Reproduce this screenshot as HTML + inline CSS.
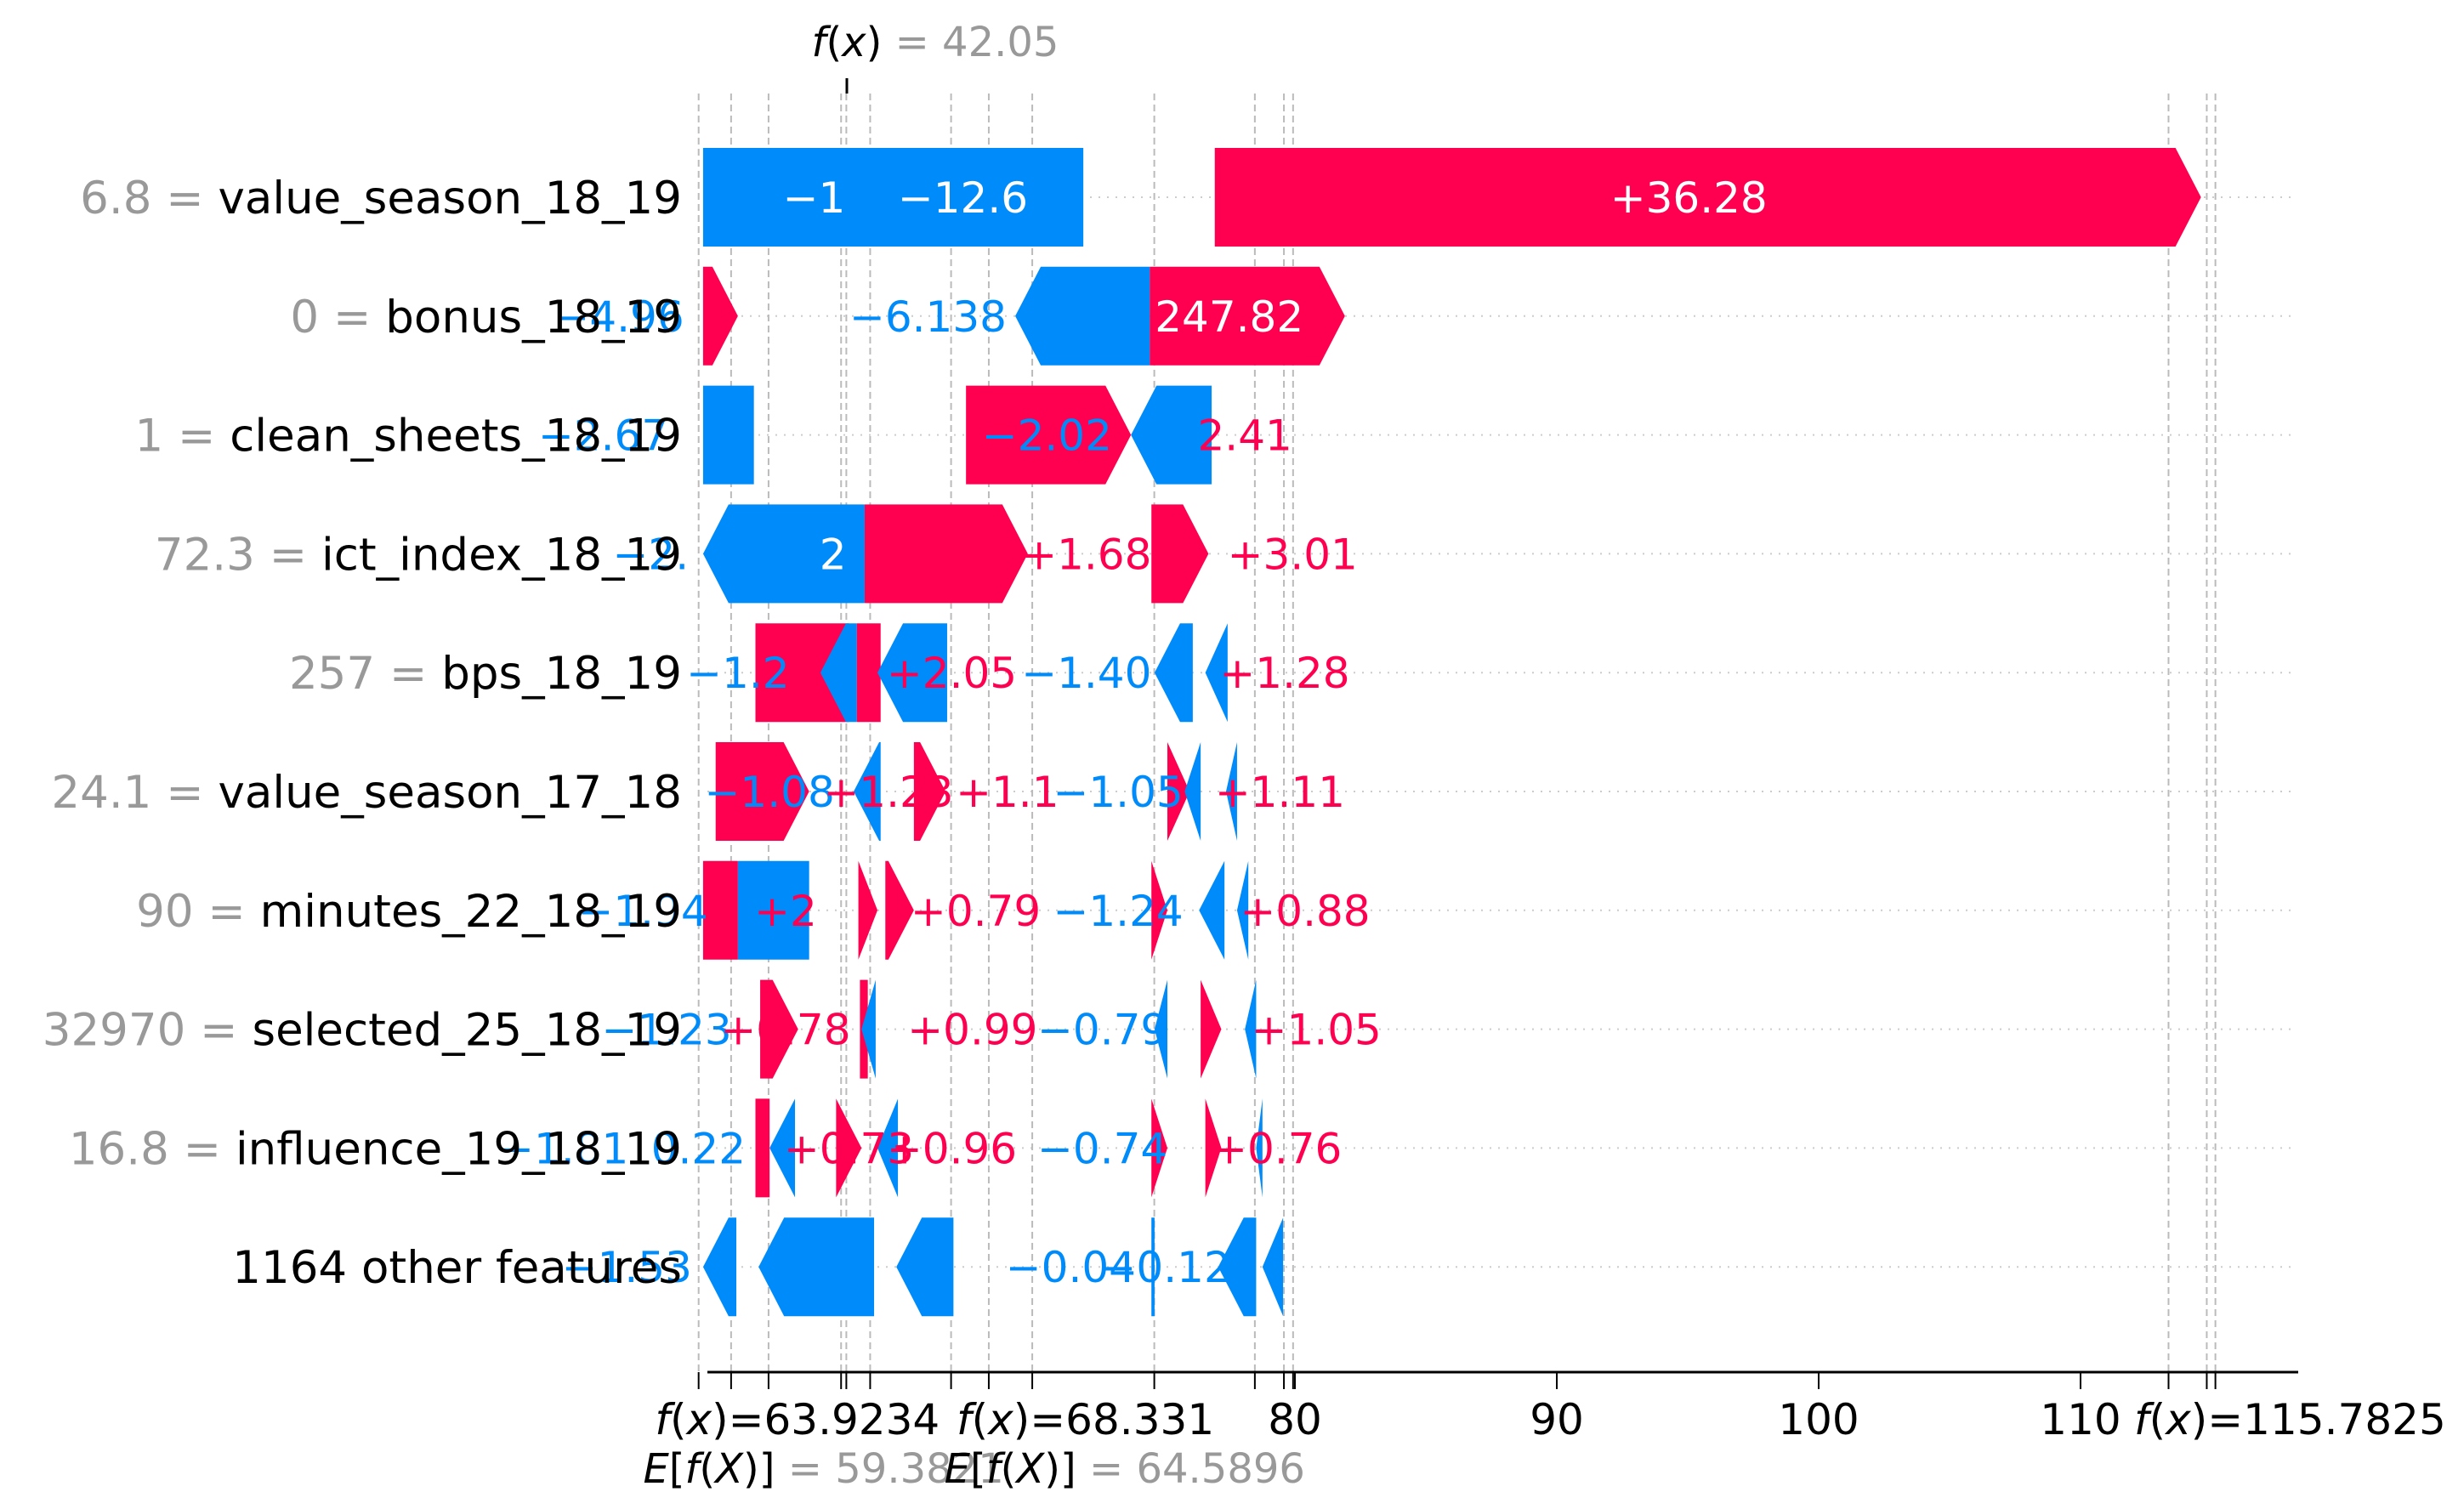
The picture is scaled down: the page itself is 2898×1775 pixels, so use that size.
<!DOCTYPE html>
<html><head><meta charset="utf-8"><style>
html,body{margin:0;padding:0;background:#fff;}
svg{display:block;font-family:"DejaVu Sans","Liberation Sans",sans-serif;}
</style></head><body>
<svg id="chart" width="2898" height="1775" viewBox="0 0 2898 1775" xmlns="http://www.w3.org/2000/svg">
<g id="grid"></g>
<g id="vlines"></g>
<g id="bars"></g>
<g id="labels"></g>
<g id="ylabels"></g>
<g id="axis"></g>
<text x="1100" y="66" font-size="48" text-anchor="middle"><tspan font-style="italic">f</tspan>(<tspan font-style="italic">x</tspan>) <tspan fill="#999">= 42.05</tspan></text>
<line x1="996" y1="92" x2="996" y2="110" stroke="#000" stroke-width="3"/>
</svg>
<script>
const features = ["value_season_18_19","bonus_18_19","clean_sheets_18_19","ict_index_18_19","bps_18_19","value_season_17_18","minutes_22_18_19","selected_25_18_19","influence_19_18_19","1164 other features"];
const featureValues = ["6.8","0","1","72.3","257","24.1","90","32970","16.8",""];
const segRow   = [0,0, 1,1,1, 2,2,2, 3,3,3, 4,4,4,4,4,4, 5,5,5,5,5,5, 6,6,6,6,6,6,6, 7,7,7,7,7,7, 8,8,8,8,8,8,8, 9,9,9,9,9,9];
const segStart = [57.40,76.94, 57.40,69.32,74.46, 57.40,67.44,73.74, 57.40,63.57,74.52, 59.40,61.88,63.27,64.06,74.64,76.58, 57.88,63.15,65.45,75.13,75.79,77.37, 57.40,58.73,63.33,64.36,74.52,76.34,77.79, 59.58,63.39,63.45,74.64,76.40,78.09, 59.40,59.94,62.48,64.06,74.52,76.58,78.52, 57.40,59.52,64.78,74.52,77.07,78.76];
const segEnd   = [71.92,114.60, 58.73,74.46,81.91, 59.34,73.74,76.82, 63.57,69.80,76.70, 62.97,63.27,64.18,66.72,76.10,77.43, 61.45,64.18,66.66,75.98,76.40,77.79, 58.73,61.45,64.06,65.45,75.13,77.31,78.22, 61.03,63.69,63.99,75.13,77.19,78.52, 59.94,60.91,63.45,64.84,75.13,77.19,78.76, 58.67,63.93,66.96,74.64,78.52,79.55];
const segSign  = [-1,1, 1,-1,1, -1,1,-1, -1,1,1, 1,-1,1,-1,-1,-1, 1,-1,1,1,-1,-1, 1,-1,1,1,1,-1,-1, 1,1,-1,-1,1,-1, 1,-1,1,-1,1,1,-1, -1,-1,-1,-1,-1,-1];
const segArrow = [0,1, 1,1,1, 0,1,1, 1,1,1, 0,1,0,1,1,1, 1,1,1,1,1,1, 0,0,1,1,1,1,1, 1,0,1,1,1,1, 0,1,1,1,1,1,1, 1,1,1,0,1,1];
const lblRow  = [0,0,0, 1,1,1, 2,2,2, 3,3,3,3, 4,4,4,4, 5,5,5,5,5, 6,6,6,6,6, 7,7,7,7,7, 8,8,8,8,8,8, 9,9,9];
const lblPos  = [61.64,67.32,95.04, 54.19,65.99,77.49, 53.59,70.53,78.09, 55.4,62.36,72.04,79.91, 58.73,66.9,72.04,79.61, 59.94,64.48,69.02,73.25,79.43, 55.1,60.55,67.81,73.25,80.39, 56.01,60.55,67.69,72.65,80.82, 52.07,57.22,62.97,66.9,72.65,79.31, 54.49,71.44,75.07];
const lblText = ["−1","−12.6","+36.28", "−4.96","−6.138","247.82", "−2.67","−2.02","2.41", "−2.","2","+1.68","+3.01", "−1.2","+2.05","−1.40","+1.28", "−1.08","+1.23","+1.1","−1.05","+1.11", "−1.94","+2","+0.79","−1.24","+0.88", "−1.23","+0.78","+0.99","−0.79","+1.05", "−1.81","0.22","+0.73","+0.96","−0.74","+0.76", "−1.53","−0.04","−0.12"];
const lblColor= ["w","w","w", "b","b","w", "b","b","r", "b","w","r","r", "b","r","b","r", "b","r","r","b","r", "b","r","r","b","r", "b","r","r","b","r", "b","b","r","r","b","r", "b","b","b"];
const majorTicks = [80,90,100,110];
const refLines = [57.23,58.47,59.90,62.67,62.87,63.78,66.87,68.31,69.97,74.63,78.47,79.58,79.93,113.36,114.82,115.15];

const NS="http://www.w3.org/2000/svg";
const RED="#ff0051", BLUE="#008bfb";
const xv = v => 1523 + (v-80)*30.8;
const rowY = i => 232 + i*139.8;
const H = 58;
function mk(tag, attrs, parent){const e=document.createElementNS(NS,tag);for(const k in attrs)e.setAttribute(k,attrs[k]);parent.appendChild(e);return e;}
const grid=document.getElementById('grid'), vl=document.getElementById('vlines'), bars=document.getElementById('bars'), labels=document.getElementById('labels'), yl=document.getElementById('ylabels'), axis=document.getElementById('axis');

features.forEach((f,i)=>{
  const y=rowY(i);
  const g=mk('line',{x1:832,x2:2700,y1:y,y2:y,stroke:'#ccc','stroke-width':2,'stroke-dasharray':'2,8'},grid);
  
  
  const t=mk('text',{x:802,y:y+19,'font-size':53,'text-anchor':'end'},yl);
  
  
  if(featureValues[i]!==""){const s=mk('tspan',{fill:'#999'},t);s.textContent=featureValues[i]+" = ";}
  const s2=mk('tspan',{fill:'#000'},t);s2.textContent=f;
});

refLines.forEach(v=>{
  const l=mk('line',{x1:xv(v),x2:xv(v),y1:110,y2:1614,stroke:'#bbb','stroke-width':2,'stroke-dasharray':'8,5'},vl);
  
  
});

segRow.forEach((r,i)=>{
  const y=rowY(r), a=xv(segStart[i]), b=xv(segEnd[i]);
  const w=b-a, head=segArrow[i]?Math.min(30,w):0;
  let pts;
  if(segSign[i]>0) pts=[[a,y-H],[b-head,y-H],[b,y],[b-head,y+H],[a,y+H]];
  else pts=[[a+head,y-H],[b,y-H],[b,y+H],[a+head,y+H],[a,y]];
  const p=mk('polygon',{points:pts.map(q=>q.join(',')).join(' '),fill:segSign[i]>0?RED:BLUE},bars);
  
  
});

lblRow.forEach((r,i)=>{
  const c=lblColor[i]==='w'?'#fff':(lblColor[i]==='r'?RED:BLUE);
  const t=mk('text',{x:xv(lblPos[i]),y:rowY(r)+18,'font-size':50,'text-anchor':'middle',fill:c},labels);
  
  
  t.textContent=lblText[i];
});

const ax=mk('line',{x1:832,x2:2703,y1:1614,y2:1614,stroke:'#000','stroke-width':3},axis);


majorTicks.concat(refLines).forEach(v=>{
  const t=mk('line',{x1:xv(v),x2:xv(v),y1:1614,y2:1634,stroke:'#000','stroke-width':2},axis);
  
  
});
majorTicks.forEach(v=>{
  const t=mk('text',{x:xv(v),y:1687,'font-size':50,'text-anchor':'middle'},axis);
  
  
  t.textContent=v;
});
const extra=[[61.0,"f(x)=63.9234"],[72.0,"f(x)=68.331"],[118.0,"f(x)=115.7825"]];
extra.forEach(e=>{
  const t=mk('text',{x:xv(e[0]),y:1687,'font-size':50,'text-anchor':'middle'},axis);
  
  
  t.innerHTML='<tspan font-style="italic">f</tspan>('+'<tspan font-style="italic">x</tspan>)<tspan>'+e[1].slice(4)+'</tspan>';
});
const ef=[[62.0,"59.3821"],[73.5,"64.5896"]];
ef.forEach(e=>{
  const t=mk('text',{x:xv(e[0]),y:1744,'font-size':48,'text-anchor':'middle'},axis);
  
  
  t.innerHTML='<tspan font-style="italic">E</tspan>[<tspan font-style="italic">f</tspan>(<tspan font-style="italic">X</tspan>)] <tspan fill="#999">= '+e[1]+'</tspan>';
});
</script>
</body></html>
